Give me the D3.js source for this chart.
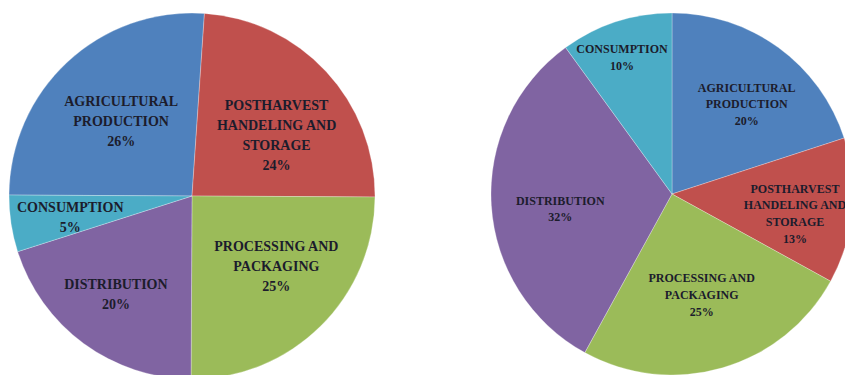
<!DOCTYPE html>
<html>
<head>
<meta charset="utf-8">
<script src="https://cdn.jsdelivr.net/npm/d3@7/dist/d3.min.js"></script>
<style>
  html, body { margin: 0; padding: 0; background: #ffffff; }
  svg { display: block; }
  text { font-family: "Liberation Serif", "Times New Roman", serif; font-weight: bold; fill: #1c1c2c; }
</style>
</head>
<body>
<svg id="chart" width="845" height="375"></svg>
<script>
// Stage names (line-broken as labelled on the slices)
const stages = ["AGRICULTURAL PRODUCTION", "POSTHARVEST HANDELING AND STORAGE", "PROCESSING AND PACKAGING", "DISTRIBUTION", "CONSUMPTION"];
const stageLines = [
  ["AGRICULTURAL", "PRODUCTION"],
  ["POSTHARVEST", "HANDELING AND", "STORAGE"],
  ["PROCESSING AND", "PACKAGING"],
  ["DISTRIBUTION"],
  ["CONSUMPTION"]
];
// Share of losses per stage (%)
const leftShares = [26, 24, 25, 20, 5];
const rightShares = [20, 13, 25, 32, 10];

const stageColors = ["#4f81bd", "#c0504d", "#9bbb59", "#8064a2", "#4bacc6"];

const svg = d3.select("#chart");

function drawPie(cfg) {
  const g = svg.append("g").attr("transform", `translate(${cfg.cx},${cfg.cy})`);
  const pie = d3.pie().sort(null).value(d => d.value)
    .startAngle(cfg.start).endAngle(cfg.start + 2 * Math.PI);
  const arcs = pie(cfg.values.map((v, i) => ({ value: v, i })));
  const arc = d3.arc().innerRadius(0).outerRadius(cfg.r);
  const labelArc = d3.arc().innerRadius(cfg.lr).outerRadius(cfg.lr);

  g.selectAll("path").data(arcs).join("path")
    .attr("d", arc)
    .attr("fill", d => stageColors[d.data.i])
    .attr("stroke", "rgba(255,255,255,0.35)")
    .attr("stroke-width", 0.8);

  arcs.forEach(d => {
    const [x, y] = labelArc.centroid(d);
    const nudge = cfg.nudges[d.data.i];
    const lines = stageLines[d.data.i].concat([d.data.value + "%"]);
    const bx = x + nudge[0];
    const by = y + nudge[1] - (lines.length - 1) * cfg.lh / 2;
    const t = g.append("text")
      .attr("text-anchor", "middle")
      .attr("font-size", cfg.fs);
    lines.forEach((ln, k) => {
      t.append("tspan")
        .attr("x", bx)
        .attr("y", by + k * cfg.lh)
        .attr("dy", "0.35em")
        .text(ln);
    });
  });
}

drawPie({
  values: leftShares, cx: 192, cy: 196, r: 183, lr: 110,
  start: -89.7 * Math.PI / 180, fs: 14, lh: 20,
  nudges: [[4, 6], [4, 14], [7, -8], [-11, 9], [-13, 4]]
});

drawPie({
  values: rightShares, cx: 672, cy: 194, r: 181, lr: 110,
  start: 0, fs: 12, lh: 16.7,
  nudges: [[10, -1], [13.5, 9], [-1, -5], [-2, 8], [-16, -32]]
});
</script>
</body>
</html>
